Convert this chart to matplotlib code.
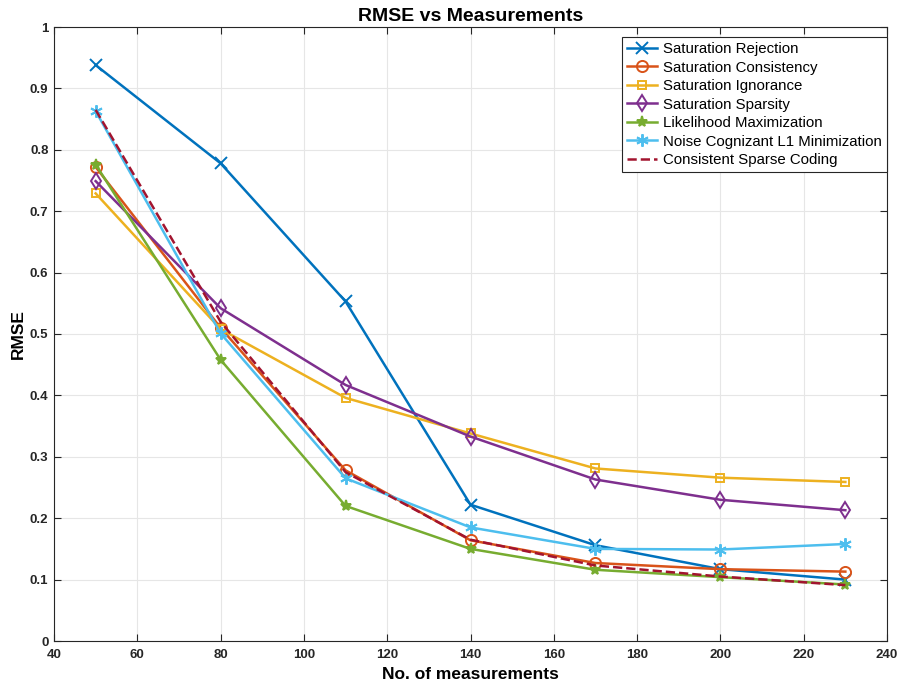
import matplotlib
matplotlib.use("Agg")
import matplotlib.pyplot as plt

# measurements on the x axis
measurements = [50, 80, 110, 140, 170, 200, 230]

# RMSE for each method
sat_rejection = [0.938, 0.778, 0.553, 0.222, 0.156, 0.117, 0.100]
sat_consistency = [0.772, 0.510, 0.278, 0.164, 0.127, 0.117, 0.113]
sat_ignorance = [0.729, 0.508, 0.396, 0.338, 0.281, 0.266, 0.259]
sat_sparsity = [0.749, 0.542, 0.417, 0.333, 0.263, 0.230, 0.213]
likelihood_max = [0.776, 0.458, 0.220, 0.150, 0.116, 0.104, 0.092]
noise_l1 = [0.863, 0.501, 0.265, 0.185, 0.150, 0.149, 0.158]
consistent_sparse = [0.865, 0.520, 0.275, 0.165, 0.123, 0.105, 0.091]

labels = ["Saturation Rejection", "Saturation Consistency", "Saturation Ignorance",
          "Saturation Sparsity", "Likelihood Maximization",
          "Noise Cognizant L1 Minimization", "Consistent Sparse Coding"]

x_ticks = list(range(40, 241, 20))
y_ticks = [0, 0.1, 0.2, 0.3, 0.4, 0.5, 0.6, 0.7, 0.8, 0.9, 1]
y_tick_labels = ["0", "0.1", "0.2", "0.3", "0.4", "0.5", "0.6", "0.7", "0.8", "0.9", "1"]

plt.rcParams['font.family'] = ['Liberation Sans', 'DejaVu Sans']

fig = plt.figure(figsize=(9.01, 6.90), dpi=100)
ax = fig.add_axes([54 / 901, 49 / 690, 833 / 901, 614 / 690])

series = [sat_rejection, sat_consistency, sat_ignorance, sat_sparsity,
          likelihood_max, noise_l1, consistent_sparse]
colors = ["#0072BD", "#D95319", "#EDB120", "#7E2F8E", "#77AC30", "#4DBEEE", "#A2142F"]
markers = ["x", "o", "s", "d", "*", (6, 2, 0), None]
sizes = [8, 8, 6, 8, 8, 9, 0]

for vals, lab, c, m, ms in zip(series, labels, colors, markers, sizes):
    if m is None:
        ax.plot(measurements, vals, color=c, linestyle="--", linewidth=1.8, label=lab)
    else:
        fill = "full" if m == "*" else "none"
        ax.plot(measurements, vals, color=c, linewidth=1.8, marker=m, markersize=ms,
                fillstyle=fill, markeredgewidth=1.4, label=lab)

ax.set_xlim(40, 240)
ax.set_ylim(0, 1)
ax.set_xticks(x_ticks)
ax.set_yticks(y_ticks)
ax.set_yticklabels(y_tick_labels)
ax.tick_params(direction="in", top=True, right=True, labelsize=9.5, length=5, colors="#262626")
ax.tick_params(axis="x", pad=6)
ax.tick_params(axis="y", pad=4)
for lbl in ax.get_xticklabels() + ax.get_yticklabels():
    lbl.set_fontweight("bold")
ax.grid(True, color="#e6e6e6", linewidth=0.8)
for s in ax.spines.values():
    s.set_color("#262626")
    s.set_linewidth(0.8)

ax.set_xlabel("No. of measurements", fontsize=12.5, fontweight="bold")
ax.set_ylabel("RMSE", fontsize=12.5, fontweight="bold")
ax.xaxis.set_label_coords(0.5, -0.054)
ax.yaxis.set_label_coords(-0.0426, 0.5)
ax.xaxis.label.set_va("center")
ax.yaxis.label.set_va("center")
ax.set_title("RMSE vs Measurements", fontsize=14, fontweight="bold", pad=4)

leg = ax.legend(loc="upper right", bbox_to_anchor=(1.0, 0.984), borderaxespad=0,
                fontsize=10.8, fancybox=False, edgecolor="#262626", framealpha=1,
                handlelength=2.0, handletextpad=0.4, labelspacing=0.3, borderpad=0.35)
leg.get_frame().set_linewidth(0.8)

fig.savefig("out.png", dpi=100)
